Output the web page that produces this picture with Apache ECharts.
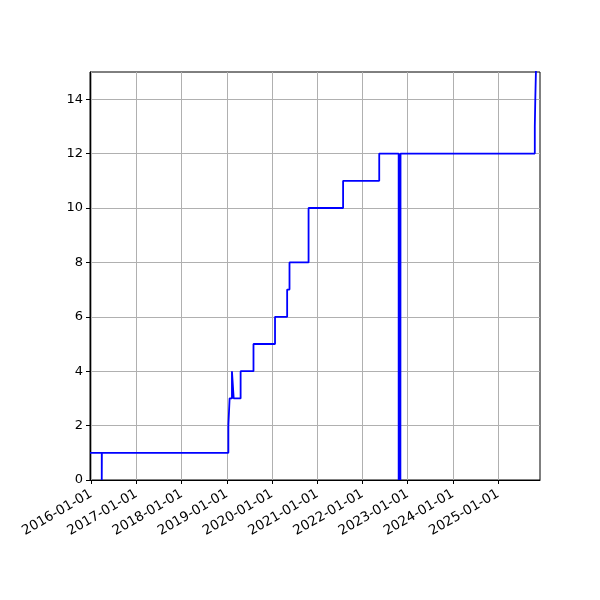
<!DOCTYPE html>
<html>
<head>
<meta charset="utf-8">
<script src="https://cdn.jsdelivr.net/npm/echarts@6/dist/echarts.min.js"></script>
<style>html,body{margin:0;padding:0;background:#fff}#c{width:600px;height:600px}</style>
</head>
<body>
<div id="c"></div>
<script>
const changeDates = ['2015-12-22','2016-03-26','2016-03-27','2019-01-13','2019-01-23','2019-02-11','2019-02-25','2019-04-22','2019-08-04','2020-01-25','2020-05-02','2020-05-21','2020-10-22','2021-07-28','2022-05-16','2022-10-20','2022-10-21','2022-11-03','2022-11-04','2025-10-24','2025-10-28','2025-11-02','2025-11-06','2025-12-05'];
const counts = [1,0,1,2,3,4,3,4,5,6,7,8,10,11,12,0,12,0,12,13,14,15,16,16];
const xTickDates = ['2016-01-01','2017-01-01','2018-01-01','2019-01-01','2020-01-01','2021-01-01','2022-01-01','2023-01-01','2024-01-01','2025-01-01'];
const yTicks = [0,2,4,6,8,10,12,14];
const xRange = ['2015-12-22','2025-12-05'];
const yRange = [0,15];

const ts = s => new Date(s + 'T00:00:00').getTime();
const pad = n => (n < 10 ? '0' : '') + n;
const fmt = v => { const d = new Date(v); return d.getFullYear() + '-' + pad(d.getMonth()+1) + '-' + pad(d.getDate()); };

const chart = echarts.init(document.getElementById('c'));
chart.setOption({
  animation: false,
  grid: {left: 90, right: 60, top: 72, bottom: 120, show: true, borderColor: '#000', borderWidth: 1, backgroundColor: 'transparent'},
  xAxis: {
    type: 'value',
    min: ts(xRange[0]), max: ts(xRange[1]),
    axisLine: {show: true, onZero: false, lineStyle: {color: '#000', width: 1}},
    axisTick: {show: true, inside: false, length: 4, lineStyle: {color: '#000'}, customValues: xTickDates.map(ts)},
    axisLabel: {rotate: 30, color: '#000', fontSize: 13.5, fontFamily: 'DejaVu Sans', margin: 13, customValues: xTickDates.map(ts), formatter: v => fmt(v)},
    splitLine: {show: true, lineStyle: {color: '#b0b0b0', width: 1}}
  },
  yAxis: {
    type: 'value',
    min: yRange[0], max: yRange[1],
    axisLine: {show: true, lineStyle: {color: '#000', width: 1}},
    axisTick: {show: true, length: 4, lineStyle: {color: '#000'}, customValues: yTicks},
    axisLabel: {color: '#000', fontSize: 13, fontFamily: 'DejaVu Sans', margin: 7, customValues: yTicks},
    splitLine: {show: true, lineStyle: {color: '#b0b0b0', width: 1}}
  },
  series: [{
    type: 'line',
    step: 'end',
    showSymbol: false,
    clip: true,
    lineStyle: {color: '#0000ff', width: 1.8},
    data: changeDates.map((d, i) => [ts(d), counts[i]])
  }]
});
</script>
</body>
</html>
